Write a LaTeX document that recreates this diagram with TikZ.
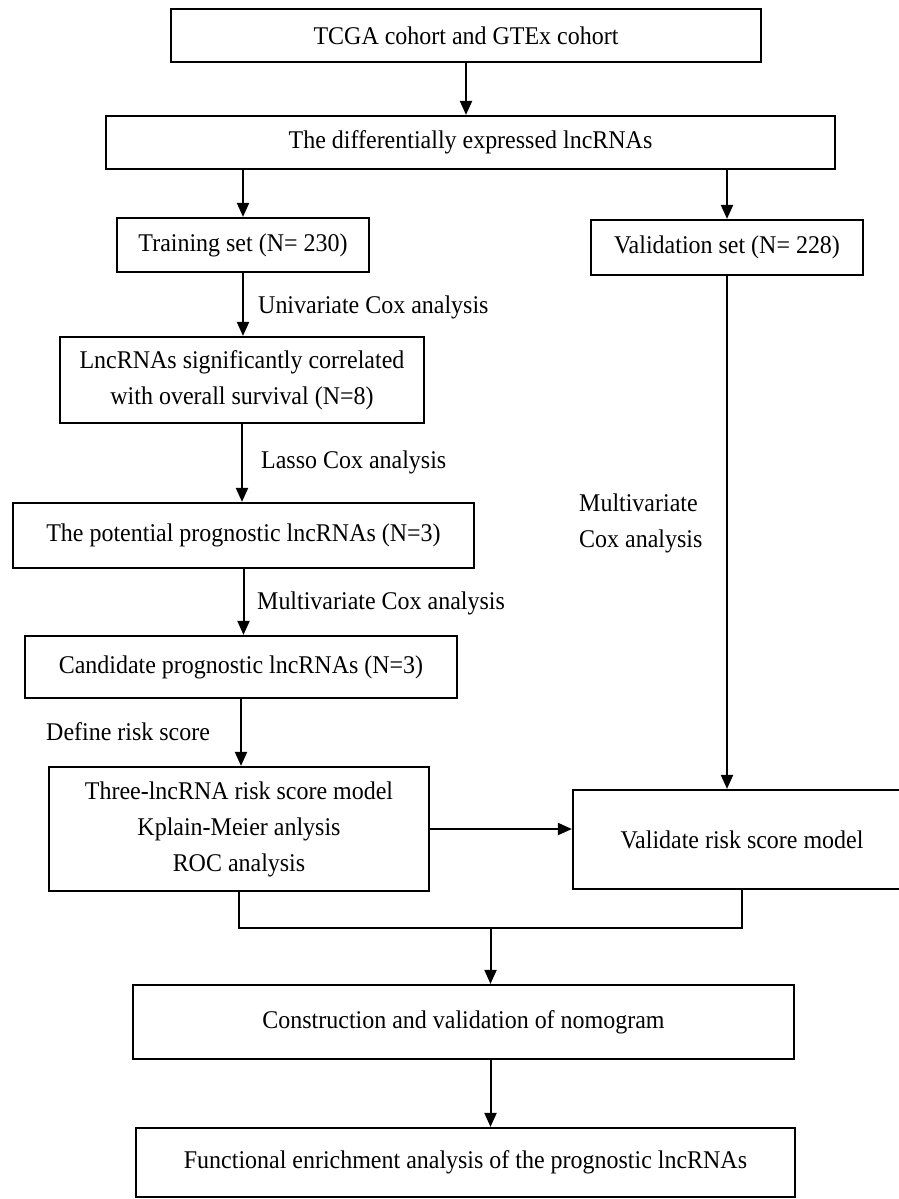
\documentclass[tikz,border=0pt]{standalone}
\usepackage{fontspec}
\setmainfont{Liberation Serif}[FakeStretch=0.94]
\usetikzlibrary{arrows.meta,calc}
\tikzset{
  box/.style={draw, line width=2.2pt, inner sep=0pt, align=center, font=\fontsize{25.5}{36}\selectfont},
  lbl/.style={inner sep=0pt, anchor=west, align=left, font=\fontsize{25.5}{36}\selectfont},
  arr/.style={line width=2pt, -{Triangle[length=14pt,width=12pt]}},
  ln/.style={line width=2pt}
}
\begin{document}
\begin{tikzpicture}[x=1pt,y=-1pt]
\useasboundingbox (0,0) rectangle (899,1199);
\node[box, minimum width=590pt, minimum height=53pt] (cohort) at (466,35.5) {TCGA cohort and GTEx cohort};
\node[box, minimum width=729pt, minimum height=53pt] (diff) at (470.5,142.5) {The differentially expressed lncRNAs};
\node[box, minimum width=252pt, minimum height=54pt] (train) at (243,245) {Training set (N= 230)};
\node[box, minimum width=272pt, minimum height=55pt] (valid) at (727,247.5) {Validation set (N= 228)};
\node[box, minimum width=364pt, minimum height=86pt] (lnc) at (242,380) {LncRNAs significantly correlated\\with overall survival (N=8)};
\node[box, minimum width=461pt, minimum height=65pt] (potential) at (243.5,535.5) {The potential prognostic lncRNAs (N=3)};
\node[box, minimum width=432pt, minimum height=62pt] (candidate) at (241,667) {Candidate prognostic lncRNAs (N=3)};
\node[box, minimum width=380pt, minimum height=124pt] (model) at (239,829) {Three-lncRNA risk score model\\Kplain-Meier anlysis\\ROC analysis};
\node[box, minimum width=338pt, minimum height=99pt] (check) at (742,839.5) {Validate risk score model};
\node[box, minimum width=661pt, minimum height=74pt] (nomo) at (463.5,1022) {Construction and validation of nomogram};
\node[box, minimum width=659pt, minimum height=69pt] (enrich) at (465.5,1162.5) {Functional enrichment analysis of the prognostic lncRNAs};
% step labels
\node[lbl] (uni) at (258,307) {Univariate Cox analysis};
\node[lbl] (lasso) at (261,462) {Lasso Cox analysis};
\node[lbl] (multi) at (257,603) {Multivariate Cox analysis};
\node[lbl] (risk) at (46,732) {Define risk score};
\node[lbl] (multiv) at (579,523.5) {Multivariate\\Cox analysis};
% connectors
\draw[arr] (cohort.south) -- (cohort.south |- diff.north);
\draw[arr] (train.north |- diff.south) -- (train.north);
\draw[arr] (valid.north |- diff.south) -- (valid.north);
\draw[arr] (train.south) -- (train.south |- lnc.north);
\draw[arr] (lnc.south) -- (lnc.south |- potential.north);
\draw[arr] (potential.south) -- (potential.south |- candidate.north);
\draw[arr] (candidate.south) -- (candidate.south |- model.north);
\draw[arr] (valid.south) -- (valid.south |- check.north);
\draw[arr] (model.east) -- (model.east -| check.west);
\draw[ln] (model.south) -- ++(0,36) coordinate (jl) -- (jl -| check.south) coordinate (jr) -- (check.south);
\coordinate (join) at ($(jl)!0.5!(jr)$);
\draw[arr] (join) -- (join |- nomo.north);
\draw[arr] (join |- nomo.south) -- (join |- enrich.north);
\end{tikzpicture}
\end{document}
